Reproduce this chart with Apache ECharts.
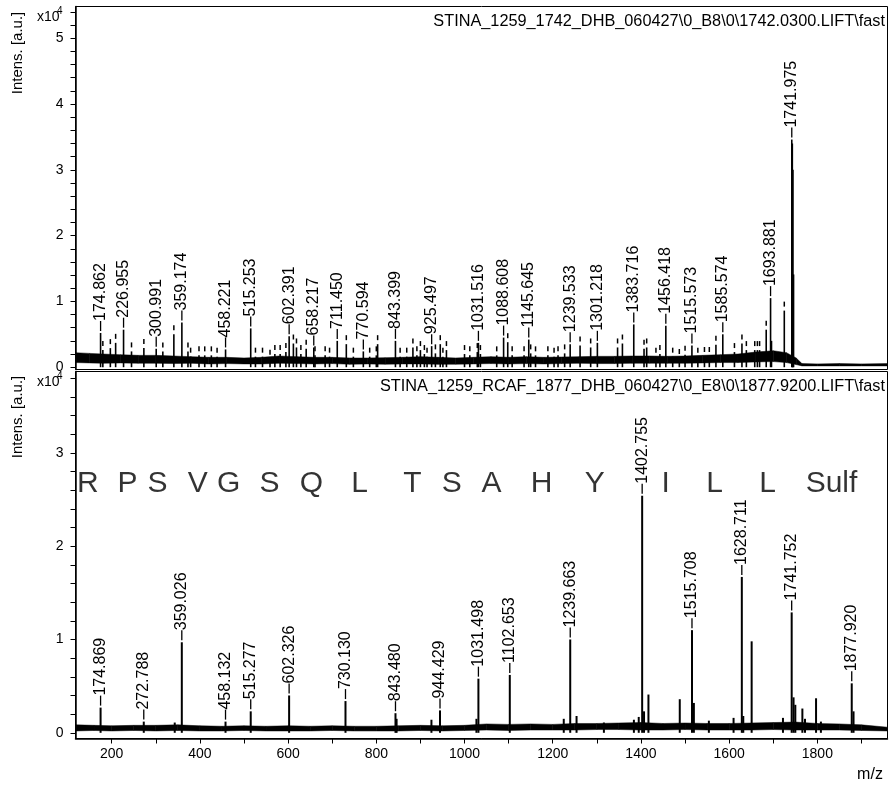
<!DOCTYPE html>
<html>
<head>
<meta charset="utf-8">
<script src="https://cdn.jsdelivr.net/npm/echarts@6/dist/echarts.min.js"></script>
<style>
html, body { margin: 0; padding: 0; background: #fff; }
#spectra { width: 893px; height: 785px; }
</style>
</head>
<body>
<div id="spectra"></div>
<script>
// m/z axis, shared by both spectra
var mzMin = 118
var mzMax = 1959
var mzTicks = [200, 300, 400, 500, 600, 700, 800, 900, 1000, 1100, 1200, 1300, 1400, 1500, 1600, 1700, 1800, 1900]
var mzLabels = [200, 400, 600, 800, 1000, 1200, 1400, 1600, 1800]

// upper spectrum
var topTitle = 'STINA_1259_1742_DHB_060427\\0_B8\\0\\1742.0300.LIFT\\fast'
var topIntTicks = [0, 2000, 4000, 6000, 8000, 10000, 12000, 14000, 16000, 18000, 20000, 22000, 24000, 26000,
  28000, 30000, 32000, 34000, 36000, 38000, 40000, 42000, 44000, 46000, 48000, 50000, 52000, 54000]
var topIntLabels = [0, 10000, 20000, 30000, 40000, 50000]
var topPeakMz = [174.862, 226.955, 300.991, 359.174, 458.221, 515.253, 602.391, 658.217, 711.450, 770.594,
  843.399, 925.497, 1031.516, 1088.608, 1145.645, 1239.533, 1301.218, 1383.716, 1456.418, 1515.573,
  1585.574, 1693.881, 1741.975]
var topPeakInt = [5200, 5700, 2800, 6800, 2700, 5900, 4700, 3000, 4000, 2400,
  4000, 3200, 3700, 4500, 4200, 3500, 3700, 6500, 6300, 3300,
  5000, 10500, 34600]
// small peaks that only carry a tick mark
var topMinorMz = [180, 197, 209, 245, 273, 316, 341, 373, 379, 398,
  411, 426, 439, 526, 542, 559, 570, 582, 595, 612,
  619, 629, 641, 661, 684, 694, 732, 748, 785, 800,
  803, 854, 869, 883, 892, 900, 909, 915, 934, 945,
  951, 959, 1000, 1012, 1029, 1036, 1073, 1098, 1108, 1135,
  1150, 1161, 1189, 1203, 1212, 1227, 1262, 1286, 1347, 1358,
  1407, 1413, 1434, 1443, 1472, 1487, 1500, 1529, 1544, 1555,
  1570, 1612, 1629, 1639, 1658, 1664, 1669, 1684, 1725]
var topMinorInt = [2600, 2900, 3700, 2400, 2900, 2400, 5000, 2400, 1600, 1800,
  1800, 1800, 1600, 1600, 1600, 1300, 2000, 2000, 2300, 3600,
  3000, 2000, 2800, 1800, 1800, 1600, 3500, 1600, 1600, 1800,
  3500, 1600, 1600, 3000, 1800, 2600, 2000, 1600, 2100, 3500,
  1600, 2600, 2000, 1800, 2300, 2000, 1800, 3800, 1800, 1800,
  2100, 1800, 1800, 1600, 1800, 2100, 3300, 3000, 3000, 3600,
  2800, 3000, 1600, 2000, 1600, 1400, 1900, 1600, 1700, 1700,
  3400, 2300, 3600, 2600, 2600, 2600, 2600, 5700, 8600]
// unmarked shoulders
var topShoulderMz = [1696, 1743.2, 1744.6, 1746]
var topShoulderInt = [4000, 34000, 30000, 14100]
// noise band (lower and upper edge)
var topNoiseMz = [118, 150, 180, 220, 260, 300, 340, 380, 420, 460, 500, 540, 580, 620, 660, 700,
  740, 780, 820, 860, 900, 940, 980, 1020, 1060, 1100, 1140, 1180, 1220, 1260, 1300, 1340,
  1380, 1420, 1460, 1500, 1540, 1580, 1620, 1660, 1700, 1730, 1752, 1765, 1800, 1850, 1900, 1959]
var topNoiseLow = [700, 650, 600, 650, 600, 600, 550, 600, 500, 550, 500, 500, 600, 550, 500, 550,
  450, 500, 450, 500, 500, 450, 450, 500, 550, 500, 550, 500, 550, 600, 550, 550,
  600, 600, 600, 600, 650, 700, 700, 800, 850, 700, 400, 200, 200, 200, 200, 200]
var topNoiseHigh = [2200, 2100, 2000, 1900, 1800, 1800, 1700, 1600, 1500, 1500, 1400, 1500, 1700, 1600, 1500, 1500,
  1400, 1400, 1450, 1500, 1600, 1500, 1400, 1500, 1600, 1500, 1600, 1500, 1550, 1600, 1650, 1650,
  1700, 1700, 1650, 1700, 1800, 1900, 2000, 2300, 2500, 2200, 1400, 550, 500, 550, 500, 550]

// lower spectrum
var botTitle = 'STINA_1259_RCAF_1877_DHB_060427\\0_E8\\0\\1877.9200.LIFT\\fast'
var botIntTicks = [0, 2000, 4000, 6000, 8000, 10000, 12000, 14000, 16000, 18000, 20000, 22000, 24000, 26000,
  28000, 30000, 32000, 34000, 36000, 38000]
var botIntLabels = [0, 10000, 20000, 30000]
var botPeakMz = [174.869, 272.788, 359.026, 458.132, 515.277, 602.326, 730.130, 843.480, 944.429,
  1031.498, 1102.653, 1239.663, 1402.755, 1515.708, 1628.711, 1741.752, 1877.920]
var botPeakInt = [2700, 1200, 9700, 1200, 2300, 4000, 3400, 2100, 2400,
  5800, 6200, 10000, 25400, 11000, 16700, 12900, 5300]
var botMinorMz = [343, 846, 925, 1027, 1225, 1254, 1316, 1384, 1395, 1407, 1417, 1488, 1520,
  1554, 1610, 1632, 1651, 1722, 1746, 1750, 1766, 1772, 1797, 1808, 1882]
var botMinorInt = [1100, 1500, 1400, 1500, 1500, 1800, 1100, 1400, 1700, 2300, 4100, 3600, 3200,
  1300, 1600, 1800, 9800, 1600, 3800, 3000, 2600, 1500, 3700, 1200, 2300]
var botNoiseMz = [118, 160, 200, 250, 300, 350, 400, 450, 500, 550, 600, 650, 700, 750, 800, 850, 900, 950,
  1000, 1050, 1100, 1150, 1200, 1250, 1300, 1350, 1400, 1450, 1500, 1550, 1600, 1650, 1700, 1750,
  1800, 1850, 1900, 1959]
var botNoiseLow = [200, 250, 200, 250, 200, 250, 200, 200, 250, 200, 200, 200, 250, 200, 200, 200, 250, 200,
  250, 300, 250, 300, 300, 300, 350, 350, 300, 300, 350, 300, 300, 300, 350, 300,
  300, 300, 250, 200]
var botNoiseHigh = [850, 800, 750, 800, 800, 850, 750, 700, 750, 700, 750, 700, 750, 700, 700, 750, 800, 750,
  800, 950, 900, 950, 900, 1000, 1000, 1050, 1100, 1000, 1050, 1000, 1000, 1050, 1100, 1150,
  1000, 950, 850, 600]

// sequence annotation
var seqLetters = ['R', 'P', 'S', 'V', 'G', 'S', 'Q', 'L', 'T', 'S', 'A', 'H', 'Y', 'I', 'L', 'L', 'Sulf']
var seqMz = [146, 236, 304, 395, 465, 558, 653, 762, 882, 971, 1061, 1175, 1295, 1456, 1567, 1687, 1832]
var seqInt = 26700

var font = '"Liberation Sans", Arial, sans-serif'

function pairs(xs, ys) {
  return xs.map(function (x, i) { return [x, ys[i]] })
}

// filled band between the lower and upper noise edge
function noiseSeries(idx, mz, low, high) {
  return {
    type: 'custom', xAxisIndex: idx, yAxisIndex: idx, silent: true,
    data: mz.map(function (m, i) { return [m, low[i], high[i]] }),
    encode: { x: 0, y: [1, 2] },
    renderItem: function (params, api) {
      var i = params.dataIndex
      if (i >= mz.length - 1) return null
      var pts = [
        api.coord([mz[i], low[i]]),
        api.coord([mz[i + 1], low[i + 1]]),
        api.coord([mz[i + 1], high[i + 1]]),
        api.coord([mz[i], high[i]])
      ]
      return { type: 'polygon', shape: { points: pts }, style: { fill: '#000', stroke: '#000', lineWidth: 0.5 } }
    }
  }
}

function peakSeries(idx, mz, ints, width, labelled, marked) {
  var s = {
    type: 'bar', xAxisIndex: idx, yAxisIndex: idx, barWidth: width, barGap: '-100%',
    silent: true,
    itemStyle: { color: '#000' },
    data: pairs(mz, ints),
    label: { show: false }
  }
  if (labelled) {
    s.label = {
      show: true, position: 'top', distance: 2, rotate: 90, align: 'left', verticalAlign: 'middle',
      fontSize: 16, fontFamily: font, color: '#000',
      formatter: function (p) { return '{t|}' + p.value[0].toFixed(3) },
      rich: { t: { width: 10, height: 1.3, backgroundColor: '#000' } }
    }
  } else if (marked) {
    s.label = {
      show: true, position: 'top', distance: 4, rotate: 90, align: 'left', verticalAlign: 'middle',
      fontSize: 15, color: '#000',
      formatter: '{t|}',
      rich: { t: { width: 5, height: 1.5, backgroundColor: '#000' } }
    }
  }
  return s
}

function yAxis(idx, min, max, ticks, labels) {
  return {
    gridIndex: idx, type: 'value', min: min, max: max,
    axisLine: { show: true, lineStyle: { color: '#000', width: 1.5 } },
    axisTick: { show: true, customValues: ticks, length: 5, lineStyle: { color: '#000' } },
    axisLabel: {
      customValues: labels, margin: 12, fontSize: 14, fontFamily: font, color: '#000',
      formatter: function (v) { return String(v / 10000) }
    },
    splitLine: { show: false }
  }
}

var chart = echarts.init(document.getElementById('spectra'))
var option = {
  animation: false,
  backgroundColor: '#fff',
  grid: [
    { left: 75.5, top: 6.5, width: 812, height: 363, show: true, borderColor: '#000', borderWidth: 1 },
    { left: 75.5, top: 371.5, width: 812, height: 367, show: true, borderColor: '#000', borderWidth: 1 }
  ],
  xAxis: [
    {
      gridIndex: 0, type: 'value', min: mzMin, max: mzMax,
      axisLine: { show: false }, axisTick: { show: false }, axisLabel: { show: false },
      splitLine: { show: false }
    },
    {
      gridIndex: 1, type: 'value', min: mzMin, max: mzMax,
      axisLine: { show: true, onZero: false, lineStyle: { color: '#000', width: 1.5 } },
      axisTick: { show: true, customValues: mzTicks, length: 5, lineStyle: { color: '#000' } },
      axisLabel: {
        customValues: mzLabels, margin: 9, fontSize: 14, fontFamily: font, color: '#000',
        formatter: function (v) { return String(v) }
      },
      splitLine: { show: false }
    }
  ],
  yAxis: [
    yAxis(0, -350, 54820, topIntTicks, topIntLabels),
    yAxis(1, -610, 38710, botIntTicks, botIntLabels)
  ],
  series: [
    noiseSeries(0, topNoiseMz, topNoiseLow, topNoiseHigh),
    peakSeries(0, topShoulderMz, topShoulderInt, 1.6, false, false),
    peakSeries(0, topMinorMz, topMinorInt, 1.6, false, true),
    peakSeries(0, topPeakMz, topPeakInt, 1.6, true, false),
    noiseSeries(1, botNoiseMz, botNoiseLow, botNoiseHigh),
    peakSeries(1, botMinorMz, botMinorInt, 2, false, false),
    peakSeries(1, botPeakMz, botPeakInt, 2, true, false),
    {
      type: 'scatter', xAxisIndex: 1, yAxisIndex: 1, symbolSize: 0, silent: true,
      data: seqMz.map(function (m, i) { return { value: [m, seqInt], name: seqLetters[i] } }),
      label: { show: true, position: 'inside', formatter: '{b}', fontSize: 30, fontFamily: font, color: '#000' }
    }
  ],
  graphic: [
    { type: 'text', x: 885, y: 22, style: { text: topTitle, font: '16.3px ' + font, fill: '#000', align: 'right', verticalAlign: 'middle' } },
    { type: 'text', x: 885, y: 387, style: { text: botTitle, font: '16.3px ' + font, fill: '#000', align: 'right', verticalAlign: 'middle' } },
    { type: 'text', x: 18, y: 53, rotation: Math.PI / 2, style: { text: 'Intens. [a.u.]', font: '15px ' + font, fill: '#000', align: 'center', verticalAlign: 'middle' } },
    { type: 'text', x: 18, y: 417, rotation: Math.PI / 2, style: { text: 'Intens. [a.u.]', font: '15px ' + font, fill: '#000', align: 'center', verticalAlign: 'middle' } },
    { type: 'text', x: 37, y: 17, style: { text: 'x10', font: '14px ' + font, fill: '#000', align: 'left', verticalAlign: 'middle' } },
    { type: 'text', x: 57, y: 11, style: { text: '4', font: '10px ' + font, fill: '#000', align: 'left', verticalAlign: 'middle' } },
    { type: 'text', x: 37, y: 382, style: { text: 'x10', font: '14px ' + font, fill: '#000', align: 'left', verticalAlign: 'middle' } },
    { type: 'text', x: 57, y: 376, style: { text: '4', font: '10px ' + font, fill: '#000', align: 'left', verticalAlign: 'middle' } },
    { type: 'text', x: 870, y: 775, style: { text: 'm/z', font: '16px ' + font, fill: '#000', align: 'center', verticalAlign: 'middle' } }
  ]
}
chart.setOption(option)
</script>
</body>
</html>
